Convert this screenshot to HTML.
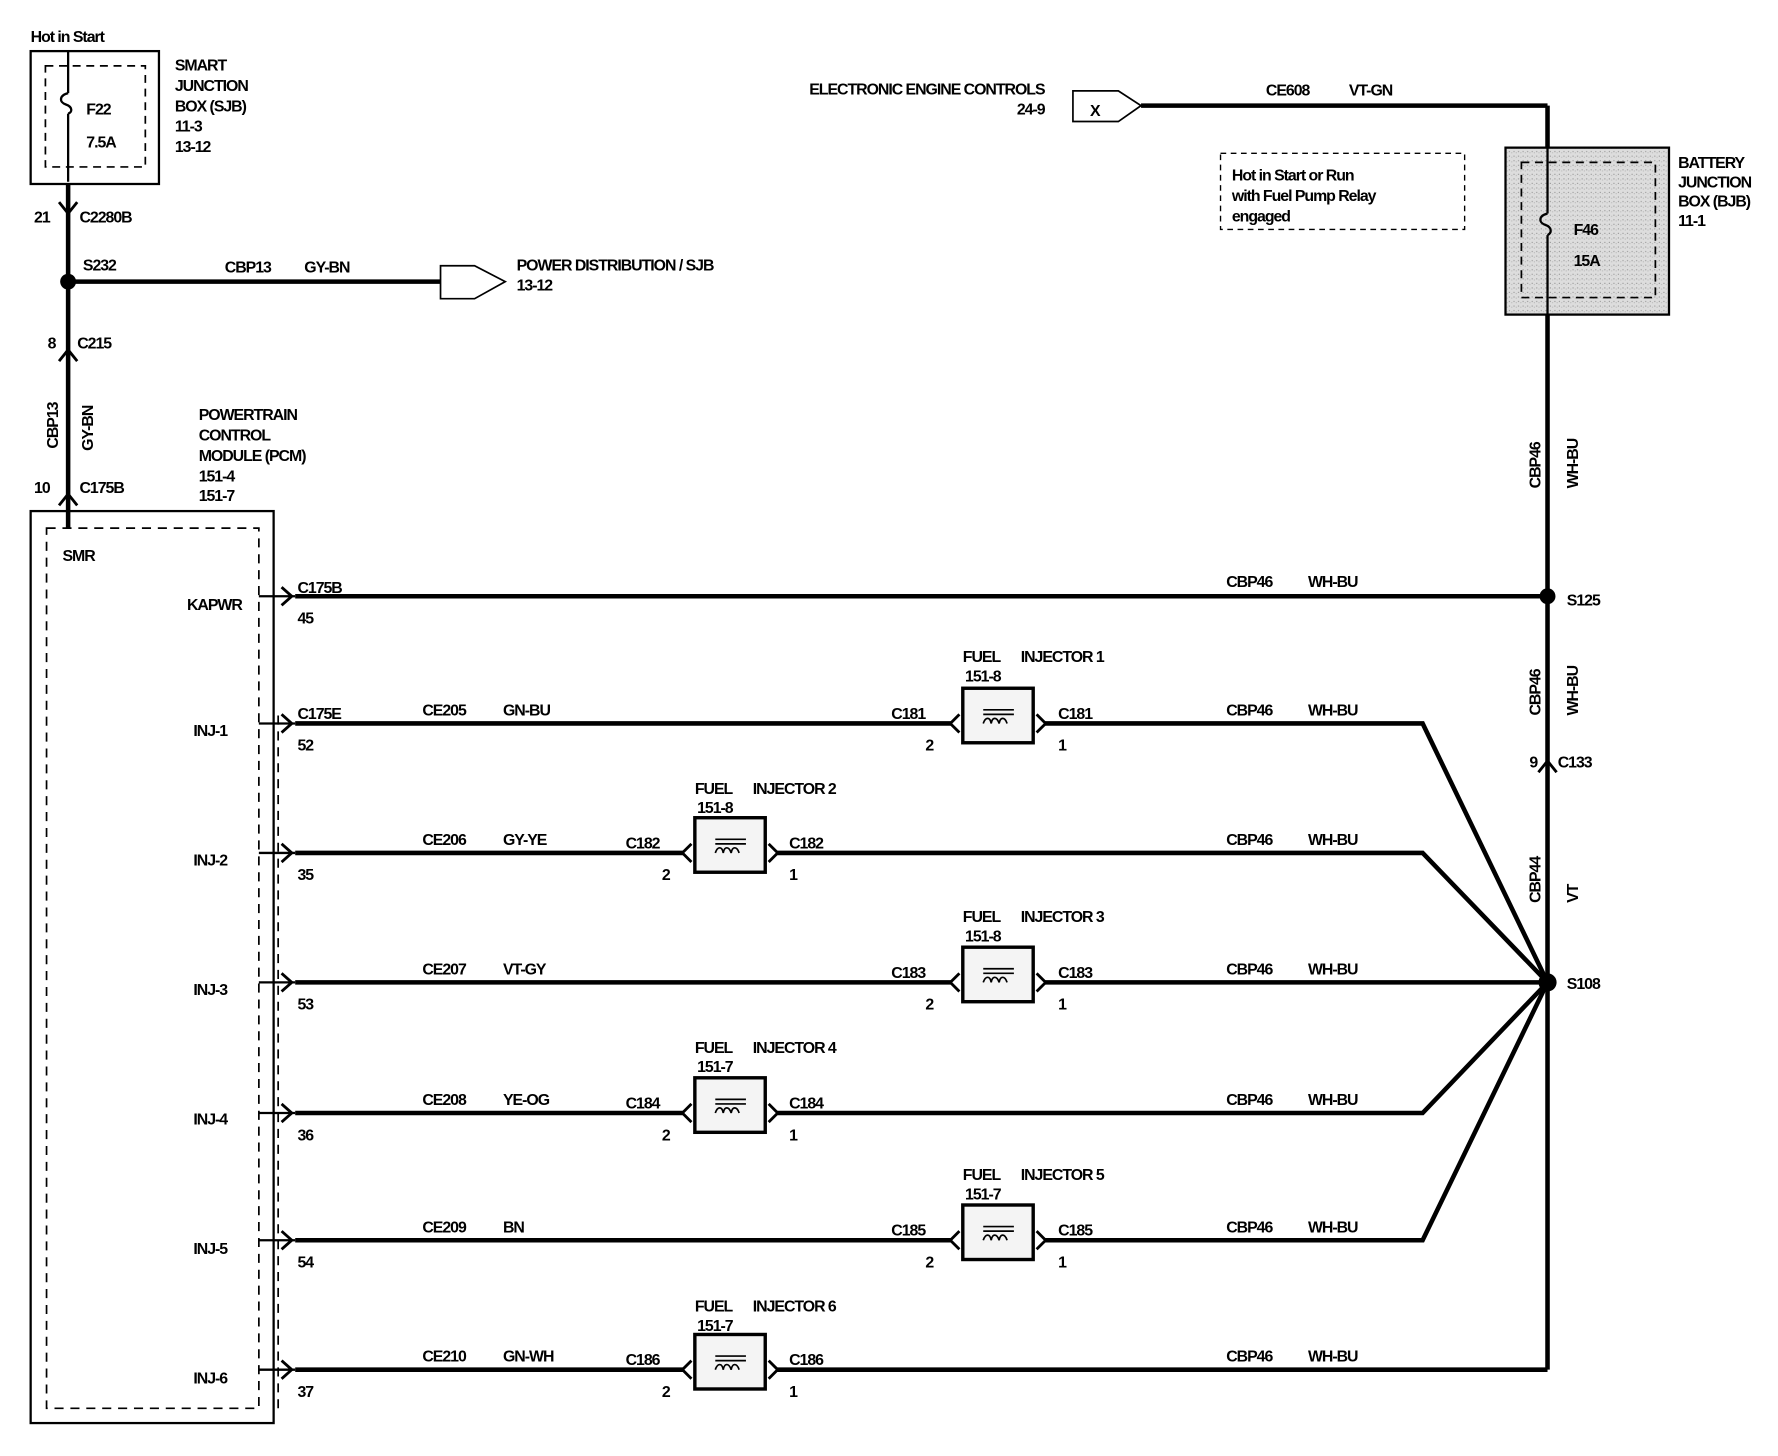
<!DOCTYPE html>
<html><head><meta charset="utf-8"><style>
html,body{margin:0;padding:0;background:#fff;}
svg{display:block}
text{font-family:"Liberation Sans",sans-serif;font-size:14px;font-weight:bold;fill:#000;letter-spacing:-0.9px;}
</style></head><body>
<svg width="1778" height="1456" viewBox="0 0 1566 1282" preserveAspectRatio="none" xmlns="http://www.w3.org/2000/svg">
<defs>
<pattern id="sp" width="4" height="4" patternUnits="userSpaceOnUse"><rect width="4" height="4" fill="#ddd"/><rect x="1" y="1" width="1" height="1" fill="#999"/><rect x="3" y="2" width="1" height="1" fill="#bbb"/></pattern>
</defs>
<g stroke="#000" fill="none">
<!-- SJB -->
<rect x="27" y="45" width="113" height="117" stroke-width="2"/>
<rect x="40" y="58" width="88" height="89" stroke-dasharray="7,5" stroke-width="1.5"/>
<path d="M60 45 V82 M60 100 V160" stroke-width="2"/>
<path d="M60 82 C52 84 52 90 58 92 C64 94 64 99 60 100" stroke-width="2"/>
<path d="M60 162 V465" stroke-width="4"/>
<path d="M52 178 L60 188 L68 178 M52 318 L60 308 L68 318 M52 445 L60 435 L68 445" stroke-width="2.5"/>
<!-- S232 branch -->
<path d="M60 248 H388" stroke-width="4"/>
<path d="M388 234 H418 L445 248 L418 263 H388 Z" stroke-width="1.5" fill="#fff"/>
<!-- PCM -->
<rect x="27" y="450" width="214" height="803" stroke-width="2"/>
<rect x="41" y="465" width="187" height="775" stroke-dasharray="8,6" stroke-width="1.5"/>
<path d="M245 630 V1240" stroke-dasharray="8,6" stroke-width="1.5"/>
<!-- KAPWR -->
<path d="M228 525 H260" stroke-width="2"/>
<path d="M260 525 H1363" stroke-width="4"/>
<path d="M248 517 L257 525 L248 533" stroke-width="2.5"/>
<!-- right vertical -->
<path d="M1363 93 V130 M1363 277 V1206" stroke-width="4"/>
<path d="M1005 93 H1363" stroke-width="4"/>
<path d="M945 80 H985 L1005 93 L985 107 H945 Z" stroke-width="1.5" fill="#fff"/>
<path d="M1355 680 L1363 670 L1371 680" stroke-width="2.5"/>
<!-- BJB -->
<rect x="1326" y="130" width="144" height="147" stroke-width="2" fill="url(#sp)"/>
<rect x="1340" y="143" width="118" height="119" stroke-dasharray="7,5" stroke-width="1.5"/>
<path d="M1363 130 V188 M1363 207 V277" stroke-width="2"/>
<path d="M1363 188 C1355 190 1355 196 1361 198 C1367 200 1367 205 1363 207" stroke-width="2"/>
<rect x="1075" y="135" width="215" height="67" stroke-dasharray="5,4" stroke-width="1.2"/>
<!-- injector rows -->
<path d="M228 637 H260 M228 751 H260 M228 865 H260 M228 980 H260 M228 1092 H260 M228 1206 H260" stroke-width="2"/>
<path d="M248 629 L257 637 L248 645 M248 743 L257 751 L248 759 M248 857 L257 865 L248 873 M248 972 L257 980 L248 988 M248 1084 L257 1092 L248 1100 M248 1198 L257 1206 L248 1214" stroke-width="2.5"/>
<g stroke-width="4">
<path d="M260 637 H838 M920 637 H1253 L1363 865"/>
<path d="M260 751 H602 M684 751 H1253 L1363 865"/>
<path d="M260 865 H838 M920 865 H1363"/>
<path d="M260 980 H602 M684 980 H1253 L1363 865"/>
<path d="M260 1092 H838 M920 1092 H1253 L1363 865"/>
<path d="M260 1206 H602 M684 1206 H1363"/>
</g>
<g stroke-width="2.5">
<path d="M845 629 L837 637 L845 645 M913 629 L921 637 L913 645"/>
<path d="M609 743 L601 751 L609 759 M677 743 L685 751 L677 759"/>
<path d="M845 857 L837 865 L845 873 M913 857 L921 865 L913 873"/>
<path d="M609 972 L601 980 L609 988 M677 972 L685 980 L677 988"/>
<path d="M845 1084 L837 1092 L845 1100 M913 1084 L921 1092 L913 1100"/>
<path d="M609 1198 L601 1206 L609 1214 M677 1198 L685 1206 L677 1214"/>
</g>
<g stroke-width="3" fill="#f4f4f4">
<rect x="848" y="606" width="62" height="48"/>
<rect x="612" y="720" width="62" height="48"/>
<rect x="848" y="834" width="62" height="48"/>
<rect x="612" y="949" width="62" height="48"/>
<rect x="848" y="1061" width="62" height="48"/>
<rect x="612" y="1175" width="62" height="48"/>
</g>
<g stroke-width="1.5">
<path d="M866 625 H893 M866 629 H893 M866 637 c2-6 6-6 7 0 c1-6 5-6 7 0 c1-6 5-6 7 0"/>
<path d="M630 739 H657 M630 743 H657 M630 751 c2-6 6-6 7 0 c1-6 5-6 7 0 c1-6 5-6 7 0"/>
<path d="M866 853 H893 M866 857 H893 M866 865 c2-6 6-6 7 0 c1-6 5-6 7 0 c1-6 5-6 7 0"/>
<path d="M630 968 H657 M630 972 H657 M630 980 c2-6 6-6 7 0 c1-6 5-6 7 0 c1-6 5-6 7 0"/>
<path d="M866 1080 H893 M866 1084 H893 M866 1092 c2-6 6-6 7 0 c1-6 5-6 7 0 c1-6 5-6 7 0"/>
<path d="M630 1194 H657 M630 1198 H657 M630 1206 c2-6 6-6 7 0 c1-6 5-6 7 0 c1-6 5-6 7 0"/>
</g>
</g>
<circle cx="60" cy="248" r="7"/>
<circle cx="1363" cy="525" r="7"/>
<circle cx="1363" cy="865" r="8"/>
<!-- text -->
<text x="27" y="37">Hot in Start</text>
<text x="154" y="62">SMART</text><text x="154" y="80">JUNCTION</text><text x="154" y="98">BOX (SJB)</text><text x="154" y="116">11-3</text><text x="154" y="134">13-12</text>
<text x="76" y="101">F22</text><text x="76" y="130">7.5A</text>
<text x="30" y="196">21</text><text x="70" y="196">C2280B</text>
<text x="73" y="238">S232</text><text x="198" y="240">CBP13</text><text x="268" y="240">GY-BN</text>
<text x="455" y="238">POWER DISTRIBUTION / SJB</text><text x="455" y="256">13-12</text>
<text x="42" y="307">8</text><text x="68" y="307">C215</text>
<text transform="translate(51,395) rotate(-90)">CBP13</text>
<text transform="translate(82,397) rotate(-90)">GY-BN</text>
<text x="30" y="434">10</text><text x="70" y="434">C175B</text>
<text x="175" y="370">POWERTRAIN</text><text x="175" y="388">CONTROL</text><text x="175" y="406">MODULE (PCM)</text><text x="175" y="424">151-4</text><text x="175" y="441">151-7</text>
<text x="55" y="494">SMR</text>
<text x="213" y="537" text-anchor="end">KAPWR</text>
<text x="262" y="522">C175B</text><text x="262" y="549">45</text>
<text x="1080" y="517">CBP46</text><text x="1152" y="517">WH-BU</text><text x="1380" y="533">S125</text>
<text x="920" y="83" text-anchor="end">ELECTRONIC ENGINE CONTROLS</text><text x="920" y="101" text-anchor="end">24-9</text>
<text x="960" y="102">X</text>
<text x="1115" y="84">CE608</text><text x="1188" y="84">VT-GN</text>
<text x="1085" y="159">Hot in Start or Run</text><text x="1085" y="177">with Fuel Pump Relay</text><text x="1085" y="195">engaged</text>
<text x="1478" y="148">BATTERY</text><text x="1478" y="165">JUNCTION</text><text x="1478" y="182">BOX (BJB)</text><text x="1478" y="199">11-1</text>
<text x="1386" y="207">F46</text><text x="1386" y="234">15A</text>
<text transform="translate(1357,430) rotate(-90)">CBP46</text>
<text transform="translate(1390,430) rotate(-90)">WH-BU</text>
<text transform="translate(1357,630) rotate(-90)">CBP46</text>
<text transform="translate(1390,630) rotate(-90)">WH-BU</text>
<text x="1347" y="676">9</text><text x="1372" y="676">C133</text>
<text transform="translate(1357,795) rotate(-90)">CBP44</text>
<text transform="translate(1390,795) rotate(-90)">VT</text>
<text x="1380" y="871">S108</text>
<text x="200" y="648" text-anchor="end">INJ-1</text><text x="262" y="633">C175E</text><text x="262" y="661">52</text>
<text x="372" y="630">CE205</text><text x="443" y="630">GN-BU</text>
<text x="200" y="762" text-anchor="end">INJ-2</text><text x="262" y="775">35</text>
<text x="372" y="744">CE206</text><text x="443" y="744">GY-YE</text>
<text x="200" y="876" text-anchor="end">INJ-3</text><text x="262" y="889">53</text>
<text x="372" y="858">CE207</text><text x="443" y="858">VT-GY</text>
<text x="200" y="990" text-anchor="end">INJ-4</text><text x="262" y="1004">36</text>
<text x="372" y="973">CE208</text><text x="443" y="973">YE-OG</text>
<text x="200" y="1104" text-anchor="end">INJ-5</text><text x="262" y="1116">54</text>
<text x="372" y="1085">CE209</text><text x="443" y="1085">BN</text>
<text x="200" y="1218" text-anchor="end">INJ-6</text><text x="262" y="1230">37</text>
<text x="372" y="1199">CE210</text><text x="443" y="1199">GN-WH</text>
<g>
<text x="1080" y="630">CBP46</text><text x="1152" y="630">WH-BU</text>
<text x="1080" y="744">CBP46</text><text x="1152" y="744">WH-BU</text>
<text x="1080" y="858">CBP46</text><text x="1152" y="858">WH-BU</text>
<text x="1080" y="973">CBP46</text><text x="1152" y="973">WH-BU</text>
<text x="1080" y="1085">CBP46</text><text x="1152" y="1085">WH-BU</text>
<text x="1080" y="1199">CBP46</text><text x="1152" y="1199">WH-BU</text>
</g>
<text x="848" y="583">FUEL</text><text x="899" y="583">INJECTOR 1</text><text x="850" y="600">151-8</text>
<text x="785" y="633">C181</text><text x="932" y="633">C181</text><text x="815" y="661">2</text><text x="932" y="661">1</text>
<text x="612" y="699">FUEL</text><text x="663" y="699">INJECTOR 2</text><text x="614" y="716">151-8</text>
<text x="551" y="747">C182</text><text x="695" y="747">C182</text><text x="583" y="775">2</text><text x="695" y="775">1</text>
<text x="848" y="812">FUEL</text><text x="899" y="812">INJECTOR 3</text><text x="850" y="829">151-8</text>
<text x="785" y="861">C183</text><text x="932" y="861">C183</text><text x="815" y="889">2</text><text x="932" y="889">1</text>
<text x="612" y="927">FUEL</text><text x="663" y="927">INJECTOR 4</text><text x="614" y="944">151-7</text>
<text x="551" y="976">C184</text><text x="695" y="976">C184</text><text x="583" y="1004">2</text><text x="695" y="1004">1</text>
<text x="848" y="1039">FUEL</text><text x="899" y="1039">INJECTOR 5</text><text x="850" y="1056">151-7</text>
<text x="785" y="1088">C185</text><text x="932" y="1088">C185</text><text x="815" y="1116">2</text><text x="932" y="1116">1</text>
<text x="612" y="1155">FUEL</text><text x="663" y="1155">INJECTOR 6</text><text x="614" y="1172">151-7</text>
<text x="551" y="1202">C186</text><text x="695" y="1202">C186</text><text x="583" y="1230">2</text><text x="695" y="1230">1</text>
</svg>
</body></html>
